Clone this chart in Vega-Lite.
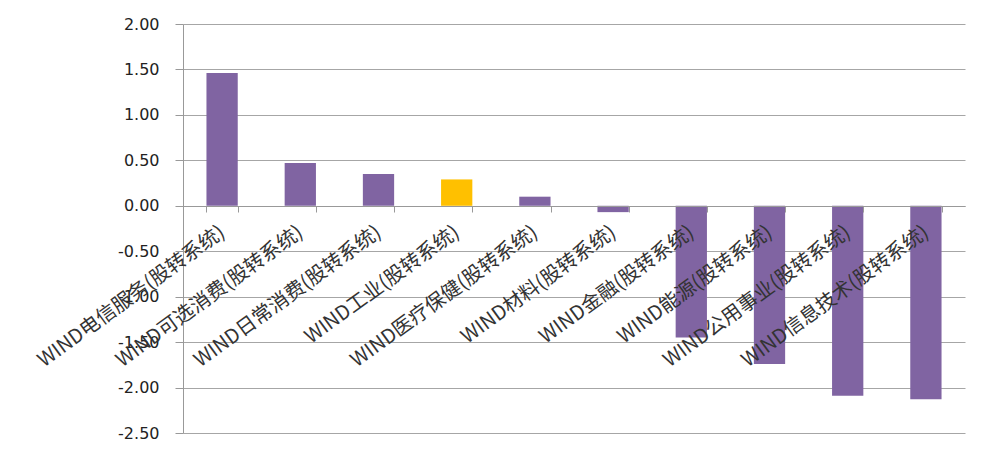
{
  "$schema": "https://vega.github.io/schema/vega-lite/v6.json",
  "autosize": "none",
  "width": 782,
  "height": 409,
  "padding": {"left": 183, "top": 24, "right": 25, "bottom": 21},
  "background": "white",
  "config": {"view": {"stroke": null}},
  "data": {
    "values": [
      {"name": "WIND电信服务(股转系统)", "value": 1.46, "hl": "n"},
      {"name": "WIND可选消费(股转系统)", "value": 0.47, "hl": "n"},
      {"name": "WIND日常消费(股转系统)", "value": 0.35, "hl": "n"},
      {"name": "WIND工业(股转系统)", "value": 0.29, "hl": "y"},
      {"name": "WIND医疗保健(股转系统)", "value": 0.10, "hl": "n"},
      {"name": "WIND材料(股转系统)", "value": -0.07, "hl": "n"},
      {"name": "WIND金融(股转系统)", "value": -1.45, "hl": "n"},
      {"name": "WIND能源(股转系统)", "value": -1.74, "hl": "n"},
      {"name": "WIND公用事业(股转系统)", "value": -2.09, "hl": "n"},
      {"name": "WIND信息技术(股转系统)", "value": -2.13, "hl": "n"}
    ]
  },
  "mark": {"type": "bar"},
  "encoding": {
    "x": {
      "field": "name",
      "type": "nominal",
      "sort": null,
      "title": null,
      "scale": {"paddingInner": 0.6, "paddingOuter": 0.3},
      "axis": {
        "orient": "bottom",
        "offset": -227,
        "zindex": 1,
        "labelAngle": -36,
        "labelAlign": "right",
        "labelBaseline": "middle",
        "labelPadding": 18,
        "labelFont": "Noto Sans CJK SC",
        "labelFontSize": 20,
        "labelColor": "#333333",
        "labelLimit": 400,
        "labelOverlap": false,
        "domainColor": "#999999",
        "tickColor": "#999999",
        "tickSize": 6,
        "tickBand": "extent",
        "grid": false
      }
    },
    "y": {
      "field": "value",
      "type": "quantitative",
      "title": null,
      "scale": {"domain": [-2.5, 2], "nice": false, "zero": false},
      "axis": {
        "values": [-2.5, -2, -1.5, -1, -0.5, 0, 0.5, 1, 1.5, 2],
        "labelExpr": "replace(format(datum.value, '.2f'), '\u2212', '-')",
        "labelFont": "DejaVu Sans",
        "labelFontSize": 16,
        "labelColor": "#222222",
        "labelPadding": 16,
        "tickSize": 8,
        "tickColor": "#999999",
        "domainColor": "#999999",
        "gridColor": "#a6a6a6",
        "gridWidth": 1
      }
    },
    "color": {
      "field": "hl",
      "type": "nominal",
      "scale": {"domain": ["n", "y"], "range": ["#8064A2", "#FFC000"]},
      "legend": null
    }
  }
}
